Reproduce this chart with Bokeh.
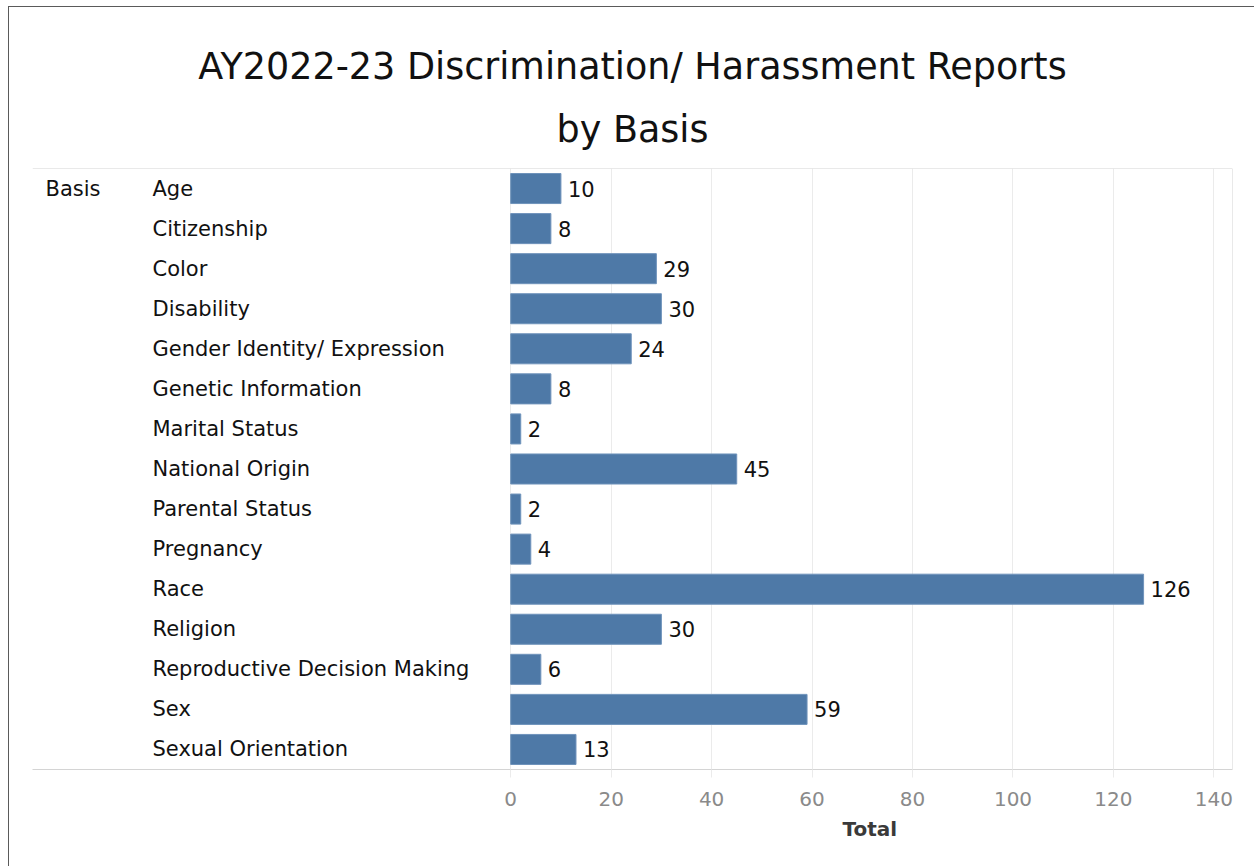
from bokeh.plotting import figure
from bokeh.models import (ColumnDataSource, Range1d, FixedTicker, Span, Label,
                          LabelSet, Title)
from bokeh.core.properties import value
from bokeh.embed import file_html
from bokeh.resources import INLINE

# ---- data ----
categories = ["Age", "Citizenship", "Color", "Disability",
              "Gender Identity/ Expression", "Genetic Information",
              "Marital Status", "National Origin", "Parental Status",
              "Pregnancy", "Race", "Religion",
              "Reproductive Decision Making", "Sex", "Sexual Orientation"]
totals = [10, 8, 29, 30, 24, 8, 2, 45, 2, 4, 126, 30, 6, 59, 13]
x_ticks = [0, 20, 40, 60, 80, 100, 120, 140]
header = "Basis"
title_line1 = "AY2022-23 Discrimination/ Harassment Reports"
title_line2 = "by Basis"
x_axis_title = "Total"

FONT = "DejaVu Sans"
BAR_COLOR = "#4e79a7"
LABEL_SIZE = "21px"

X_END = 143.7
X_START = -95.2

src = ColumnDataSource(dict(
    cat=categories,
    idx=list(range(len(categories))),
    total=totals,
    label=[str(v) for v in totals],
))

p = figure(width=1246, height=860, output_backend="svg", toolbar_location=None,
           x_range=Range1d(X_START, X_END),
           y_range=Range1d(len(categories) - 0.5, -0.5),
           min_border_left=23, min_border_right=23, min_border_bottom=98,
           min_border_top=161)
p.outline_line_color = None
p.background_fill_color = "white"
p.border_fill_color = "white"
p.styles = {"margin-left": "8px", "margin-top": "6px",
            "border-left": "1px solid #5a5a5a", "border-top": "1px solid #5a5a5a"}

# titles (added bottom-up)
p.add_layout(Title(text=title_line2, align="center", text_font=FONT,
                   text_font_size="36.5px", text_font_style="normal",
                   text_color="#111111", standoff=36), "above")
p.add_layout(Title(text=title_line1, align="center", text_font=FONT,
                   text_font_size="36.5px", text_font_style="normal",
                   text_color="#111111", standoff=0), "above")

# bars
p.hbar(y="idx", left=0, right="total", height=0.75, source=src,
       fill_color=BAR_COLOR, line_color="#6f93bb", line_width=1)

# value labels
p.add_layout(LabelSet(x="total", y="idx", text="label", source=src,
                      x_offset=7, text_align="left", text_baseline="middle",
                      text_font=value(FONT), text_font_size=value(LABEL_SIZE),
                      text_color=value("#111111")))

# category labels (left-aligned, screen x relative to frame)
p.add_layout(LabelSet(x=120, x_units="screen", y="idx", text="cat", source=src,
                      text_align="left", text_baseline="middle",
                      text_font=value(FONT), text_font_size=value(LABEL_SIZE),
                      text_color=value("#111111")))
p.add_layout(Label(x=13, x_units="screen", y=0, text=header,
                   text_align="left", text_baseline="middle",
                   text_font=FONT, text_font_size=LABEL_SIZE, text_color="#111111"))

# axes
p.yaxis.visible = False
p.xaxis.ticker = FixedTicker(ticks=x_ticks)
p.xaxis.axis_line_color = "#d4d4d4"
p.xaxis.major_tick_line_color = "#ebebeb"
p.xaxis.major_tick_out = 8
p.xaxis.major_tick_in = 0
p.xaxis.minor_tick_line_color = None
p.xaxis.major_label_standoff = 14
p.xaxis.major_label_text_font = FONT
p.xaxis.major_label_text_font_size = "20px"
p.xaxis.major_label_text_color = "#8a8a8a"

p.xgrid.ticker = FixedTicker(ticks=x_ticks)
p.xgrid.grid_line_color = "#ebebeb"
p.ygrid.grid_line_color = None

# frame lines
p.add_layout(Span(location=-0.5, dimension="width", line_color="#d4d4d4", line_width=1))
p.add_layout(Span(location=X_END, dimension="height", line_color="#d4d4d4", line_width=1))

# x-axis title under the bar area
p.add_layout(Title(text=x_axis_title, align="left", offset=810,
                   text_font=FONT, text_font_size="20px", text_font_style="bold",
                   text_color="#3a3a3a", standoff=12), "below")

open("out.html", "w").write(file_html(p, INLINE))
